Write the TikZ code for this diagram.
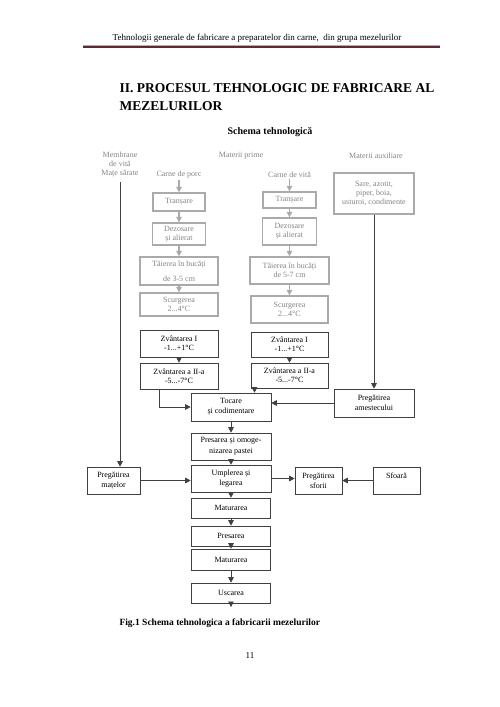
\documentclass[tikz,border=0pt]{standalone}
\usepackage{fontspec}
\setmainfont{Liberation Serif}[BoldFont={Liberation Serif Bold}]
\usepackage{tikz}
\usetikzlibrary{arrows.meta}
\definecolor{rule}{HTML}{5C2A30}
\definecolor{rulelight}{HTML}{C9A3A6}
\definecolor{haze}{HTML}{858585}

\begin{document}
\begin{tikzpicture}[x=1pt, y=-1pt,
    box/.style={draw=black!75, line width=0.6pt, inner sep=1pt, align=center,
                font=\fontsize{8}{9}\selectfont},
    hazebox/.style={box, draw=haze!70, line width=1.3pt, text=haze},
    hazetxt/.style={align=center, inner sep=1pt, text=haze, font=\fontsize{8}{9}\selectfont},
    arrow/.style={draw=black!75, line width=0.6pt, -{Triangle[length=5.5pt,width=5.5pt]}},
    hazearrow/.style={draw=haze!70, line width=1.3pt, -{Triangle[length=5.5pt,width=5.5pt]}}
  ]
    \useasboundingbox[fill=white] (0,0) rectangle (500,707);

    % page header and title
    \node[font=\fontsize{9}{10}\selectfont] (head) at (257,38) {Tehnologii generale de fabricare a preparatelor din carne,\ \ din grupa mezelurilor};
    \coordinate (ruleA) at (83,47);
    \coordinate (ruleB) at (440,47);
    \draw[rule, line width=2.2pt] (ruleA) -- (ruleB);
    \draw[rulelight, line width=0.8pt] ([yshift=2pt]ruleA) -- ([yshift=2pt]ruleB);
    \node[anchor=west, align=left, font=\fontsize{13.5}{18}\selectfont\bfseries] (title) at (116,97) {II. PROCESUL TEHNOLOGIC DE FABRICARE AL\\MEZELURILOR};
    \node[font=\fontsize{10}{12}\selectfont\bfseries] (schema) at (270,132) {Schema tehnologică};

    % blurred upper part
    \node[hazetxt] (hdrM) at (120,165) {Membrane\\de vită\\Mațe sărate};
    \node[hazetxt] (hdrP) at (241,156) {Materii prime};
    \node[hazetxt] (hdrA) at (376,156) {Materii auxiliare};
    \node[hazetxt] (carneL) at (179,175) {Carne de porc};
    \node[hazetxt] (carneR) at (289.5,175) {Carne de vită};
    \node[hazebox, minimum width=80pt, minimum height=41pt] (aux) at (374,193.5) {Sare, azotit,\\piper, boia,\\usturoi, condimente};

    \node[hazebox, minimum width=52pt, minimum height=18pt] (transL) at (179,202) {Tranșare};
    \node[hazebox, minimum width=53pt, minimum height=22pt] (dezL) at (179,234) {Dezosare\\și alierat};
    \node[hazebox, minimum width=78pt, minimum height=28pt] (taiL) at (179,271) {Tăierea în bucăți\\[6pt]de 3-5 cm};
    \node[hazebox, minimum width=78pt, minimum height=23pt] (scurL) at (179,304.5) {Scurgerea\\2...4°C};

    \node[hazebox, minimum width=53pt, minimum height=16pt] (transR) at (289.5,200) {Tranșare};
    \node[hazebox, minimum width=54pt, minimum height=27pt] (dezR) at (289.5,231.5) {Dezosare\\și alierat};
    \node[hazebox, minimum width=79pt, minimum height=27pt] (taiR) at (289.5,270.5) {Tăierea în bucăți\\de 5-7 cm};
    \node[hazebox, minimum width=77pt, minimum height=27pt] (scurR) at (289.5,309.5) {Scurgerea\\2...4°C};

    \draw[hazearrow] (carneL) -- (transL);
    \draw[hazearrow] (transL) -- (dezL);
    \draw[hazearrow] (dezL) -- (taiL);
    \draw[hazearrow] (taiL) -- (scurL);
    \draw[hazearrow] (carneR) -- (transR);
    \draw[hazearrow] (transR) -- (dezR);
    \draw[hazearrow] (dezR) -- (taiR);
    \draw[hazearrow] (taiR) -- (scurR);

    % clear lower part
    \node[box, minimum width=78pt, minimum height=27pt] (zv1L) at (179,343.5) {Zvântarea I\\-1...+1°C};
    \node[box, minimum width=77pt, minimum height=25pt] (zv1R) at (289.5,344.5) {Zvântarea I\\-1...+1°C};
    \node[box, minimum width=78pt, minimum height=26pt] (zv2L) at (179,376) {Zvântarea a II-a\\-5...-7°C};
    \node[box, minimum width=77pt, minimum height=25pt] (zv2R) at (289.5,375.5) {Zvântarea a II-a\\-5...-7°C};
    \node[box, minimum width=80pt, minimum height=28pt, font=\fontsize{8}{10}\selectfont] (toc) at (231,407) {Tocare\\și codimentare};
    \node[box, minimum width=80pt, minimum height=28pt, font=\fontsize{8}{10}\selectfont] (amest) at (374,403) {Pregătirea\\amestecului};
    \node[box, minimum width=80pt, minimum height=27pt, font=\fontsize{8}{11}\selectfont] (pres) at (231,446.5) {Presarea și omoge-\\nizarea pastei};
    \node[box, minimum width=80pt, minimum height=27pt, font=\fontsize{8}{10}\selectfont] (umpl) at (231,478.5) {Umplerea și\\legarea};
    \node[box, minimum width=53pt, minimum height=27pt, font=\fontsize{8}{10}\selectfont] (matel) at (113.5,480.5) {Pregătirea\\mațelor};
    \node[box, minimum width=47pt, minimum height=27pt, font=\fontsize{8}{10}\selectfont] (sfori) at (318.5,480.5) {Pregătirea\\sforii};
    \node[box, minimum width=47pt, minimum height=27pt, font=\fontsize{8}{10}\selectfont] (sfoara) at (396.5,480.5) {Sfoară\\~};
    \node[box, minimum width=79pt, minimum height=20pt] (mat1) at (231,508) {Maturarea};
    \node[box, minimum width=79pt, minimum height=20pt] (presb) at (231,536) {Presarea};
    \node[box, minimum width=79pt, minimum height=21pt] (mat2) at (231,559.5) {Maturarea};
    \node[box, minimum width=79pt, minimum height=20pt] (usc) at (231,593) {Uscarea};
    \coordinate (uscEnd) at (231,607);

    \draw[arrow] (zv1L) -- (zv2L);
    \draw[arrow] (zv1R) -- (zv2R);
    \draw[arrow] ([xshift=-20pt]zv2L.south) |- (toc.west);
    \draw[arrow] ([xshift=-35pt]zv2R.south) -- ([xshift=-35pt]zv2R.south |- toc.north);
    \draw[arrow] (aux) -- (amest);
    \draw[arrow] (amest.west) -- (amest.west -| toc.east);
    \draw[arrow] (toc) -- (pres);
    \draw[arrow] (pres) -- (umpl);
    \draw[arrow] ([yshift=-3pt]hdrM.south) -- (hdrM.south |- matel.north);
    \draw[arrow] (matel.east) -- (matel.east -| umpl.west);
    \draw[arrow] (umpl.east) -- (umpl.east -| sfori.west);
    \draw[arrow] (sfoara.west) -- (sfoara.west -| sfori.east);
    \draw[arrow] (umpl) -- (mat1);
    \draw[arrow] (mat1) -- (presb);
    \draw[arrow] (presb) -- (mat2);
    \draw[arrow] (mat2) -- (usc);
    \draw[arrow] (usc) -- (uscEnd);

    % caption and page number
    \node[anchor=west, font=\fontsize{9.5}{11}\selectfont\bfseries] (caption) at (116,623) {Fig.1 Schema tehnologica a fabricarii mezelurilor};
    \node[font=\fontsize{9}{11}\selectfont] (pagenum) at (250,656) {11};
  \end{tikzpicture}
\end{document}
